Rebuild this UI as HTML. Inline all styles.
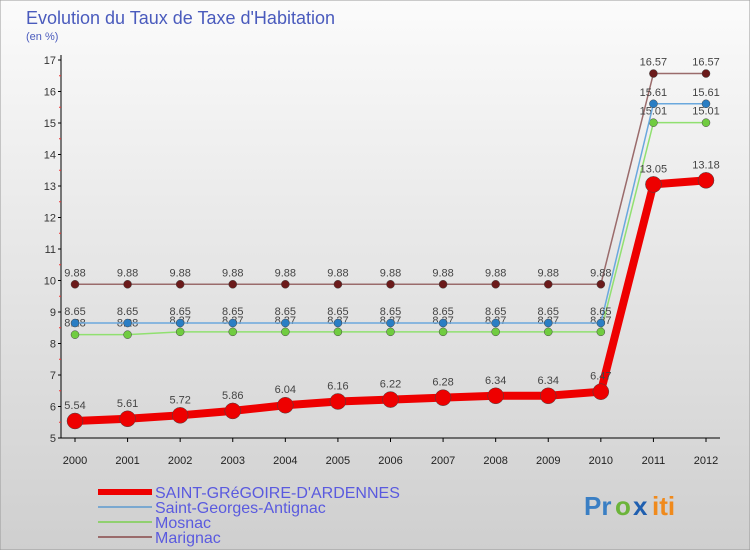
<!DOCTYPE html>
<html><head><meta charset="utf-8"><style>
body{margin:0;width:750px;height:550px;overflow:hidden;font-family:"Liberation Sans",sans-serif}
</style></head><body>
<svg id="chart" width="750" height="550" viewBox="0 0 750 550">
<defs><linearGradient id="bg" x1="0" y1="0" x2="0" y2="1"><stop offset="0" stop-color="#fbfbfb"/><stop offset="1" stop-color="#cfcfcf"/></linearGradient></defs>
<rect x="0" y="0" width="750" height="550" fill="url(#bg)" stroke="#999"/>
<text x="26" y="24" font-size="18" fill="#4a5bbd">Evolution du Taux de Taxe d'Habitation</text>
<text x="26" y="40" font-size="11" fill="#4a5bbd">(en %)</text>
<g id="axes"></g><g id="series"></g><g id="legend"></g>
<g font-size="26" font-weight="bold">
<text x="584" y="515" fill="#3a7fc4">Pr</text><text x="615" y="515" fill="#6cb43a">o</text><text x="633" y="515" fill="#1f5fb0">x</text><text x="652" y="515" fill="#f08a1c">iti</text></g>
</svg>
<script>
const years=[2000,2001,2002,2003,2004,2005,2006,2007,2008,2009,2010,2011,2012];
const yTicks=[5,6,7,8,9,10,11,12,13,14,15,16,17];
const stGregoire=[5.54,5.61,5.72,5.86,6.04,6.16,6.22,6.28,6.34,6.34,6.47,13.05,13.18];
const stGeorges=[8.65,8.65,8.65,8.65,8.65,8.65,8.65,8.65,8.65,8.65,8.65,15.61,15.61];
const mosnac=[8.28,8.28,8.37,8.37,8.37,8.37,8.37,8.37,8.37,8.37,8.37,15.01,15.01];
const marignac=[9.88,9.88,9.88,9.88,9.88,9.88,9.88,9.88,9.88,9.88,9.88,16.57,16.57];
const seriesNames=["SAINT-GRéGOIRE-D'ARDENNES","Saint-Georges-Antignac","Mosnac","Marignac"];
const NS="http://www.w3.org/2000/svg";
const xS=y=>75+(y-2000)*(706-75)/12;
const yS=v=>438-(v-5)*31.5;
function mk(p,t,a){const e=document.createElementNS(NS,t);for(const k in a)e.setAttribute(k,a[k]);p.appendChild(e);return e;}
const ax=document.getElementById('axes');
const yAxis=mk(ax,'line',{x1:61,y1:55,x2:61,y2:438,stroke:'#000'});


const xAxis=mk(ax,'line',{x1:61,y1:438,x2:720,y2:438,stroke:'#000'});


yTicks.forEach((v,i)=>{
 mk(ax,'line',{x1:58,y1:yS(v),x2:61,y2:yS(v),stroke:'#000'});
 if(i<yTicks.length-1)mk(ax,'line',{x1:59,y1:yS(v+0.5),x2:61,y2:yS(v+0.5),stroke:'#e33'});
 const t=mk(ax,'text',{x:56,y:yS(v)+4,'font-size':11,'text-anchor':'end',fill:'#333'});t.textContent=v;
 
 
});
years.forEach(y=>{
 mk(ax,'line',{x1:xS(y),y1:438,x2:xS(y),y2:442,stroke:'#000'});
 const t=mk(ax,'text',{x:xS(y),y:464,'font-size':11,'text-anchor':'middle',fill:'#222'});t.textContent=y;
 
 
});
const sg=document.getElementById('series');
const defs=[[marignac,'#9a6b6b','#6b1a1a',1.5,4,'marignac'],[mosnac,'#90e070','#70cc40',1.5,4,'mosnac'],[stGeorges,'#6aa8dd','#2a7ec4',1.5,4,'saint-georges-antignac'],[stGregoire,'#ee0000','#ee0000',8,8,'saint-gregoire']];
defs.forEach(([d,lc,pc,w,r,n])=>{
 const g=mk(sg,'g',{});
 
 
 mk(g,'polyline',{points:d.map((v,i)=>xS(years[i])+','+yS(v)).join(' '),fill:'none',stroke:lc,'stroke-width':w,'stroke-linejoin':'round'});
 d.forEach((v,i)=>{
  const c=mk(g,'circle',{cx:xS(years[i]),cy:yS(v),r:r,fill:pc,stroke:'#444','stroke-width':0.5});
  
  
  const t=mk(g,'text',{x:xS(years[i]),y:yS(v)-(w>5?12:8),'font-size':11,'text-anchor':'middle',fill:'#444'});t.textContent=v;
  
  
 });
});
const lg=document.getElementById('legend');
const lcols=['#ee0000','#7aa8d0','#90d070','#9a6b6b'];
seriesNames.forEach((n,i)=>{
 const y=492+i*15;
 const e=mk(lg,'g',{});
 
 
 mk(e,'line',{x1:98,y1:y,x2:152,y2:y,stroke:lcols[i],'stroke-width':i==0?6:2});
 const t=mk(e,'text',{x:155,y:y+6,'font-size':16,fill:'#5a5adf'});t.textContent=n;
});
</script>
</body></html>
